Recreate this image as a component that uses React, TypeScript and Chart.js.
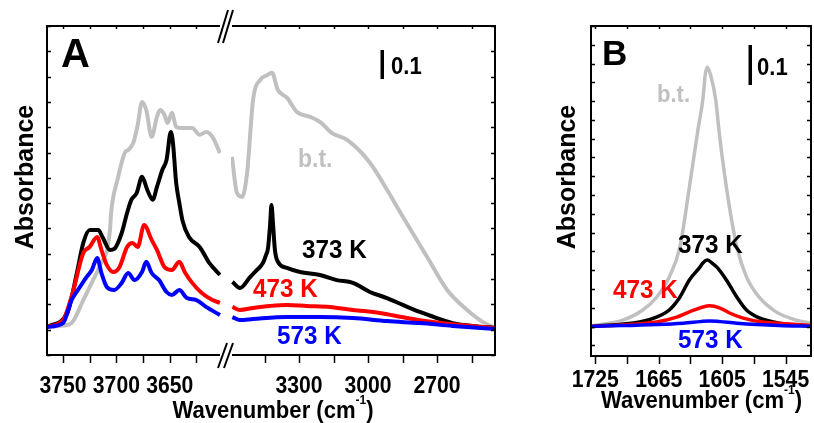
import React, { useEffect, useRef } from "react";
import { Chart, registerables } from "chart.js";
Chart.register(...registerables);

// ---------- Panel A : O-H / C-H region (left part of broken axis) ----------
const btLeftWn = [3765, 3750, 3742, 3731, 3722, 3716, 3706, 3705, 3699, 3692, 3689, 3684, 3680, 3676, 3672, 3667, 3662, 3659, 3655, 3652, 3648, 3644, 3639, 3629, 3622, 3616, 3610, 3603];
const btLeftAbs = [0.011, 0.016, 0.026, 0.117, 0.195, 0.248, 0.394, 0.46, 0.592, 0.7, 0.71, 0.74, 0.81, 0.9, 0.868, 0.762, 0.841, 0.868, 0.849, 0.817, 0.857, 0.801, 0.797, 0.797, 0.77, 0.781, 0.762, 0.698];
const k373LeftWn = [3765, 3746, 3737, 3731, 3725, 3717, 3713, 3706, 3702, 3695, 3690, 3686, 3681, 3676, 3671, 3666, 3662, 3657, 3653, 3649, 3647, 3644, 3641, 3638, 3632, 3622, 3613, 3603];
const k373LeftAbs = [0.011, 0.066, 0.224, 0.343, 0.394, 0.394, 0.366, 0.315, 0.319, 0.382, 0.461, 0.513, 0.54, 0.604, 0.552, 0.513, 0.564, 0.631, 0.671, 0.781, 0.738, 0.58, 0.5, 0.43, 0.366, 0.327, 0.264, 0.216];
const k473LeftWn = [3765, 3750, 3741, 3731, 3725, 3718, 3714, 3709, 3703, 3697, 3690, 3685, 3680, 3674, 3667, 3662, 3655, 3648, 3641, 3636, 3629, 3620, 3610, 3603];
const k473LeftAbs = [0.011, 0.038, 0.145, 0.303, 0.327, 0.366, 0.315, 0.256, 0.228, 0.248, 0.327, 0.343, 0.327, 0.414, 0.355, 0.315, 0.248, 0.236, 0.268, 0.228, 0.185, 0.145, 0.117, 0.106];
const k573LeftWn = [3765, 3750, 3742, 3736, 3728, 3723, 3718, 3714, 3709, 3702, 3695, 3689, 3683, 3676, 3672, 3667, 3660, 3653, 3648, 3641, 3634, 3625, 3616, 3603];
const k573LeftAbs = [0.011, 0.026, 0.117, 0.157, 0.208, 0.236, 0.283, 0.224, 0.169, 0.157, 0.185, 0.224, 0.196, 0.228, 0.268, 0.224, 0.196, 0.149, 0.137, 0.157, 0.125, 0.117, 0.09, 0.058];

// ---------- Panel A : right part of broken axis ----------
const btRightWn = [3592, 3570, 3548, 3526, 3500, 3466, 3440, 3418, 3392, 3352, 3309, 3252, 3209, 3157, 3091, 2991, 2917, 2848, 2743, 2656, 2569, 2500, 2448];
const btRightAbs = [0.683, 0.54, 0.525, 0.619, 0.908, 0.99, 1.005, 1.015, 0.947, 0.916, 0.86, 0.841, 0.821, 0.777, 0.75, 0.659, 0.552, 0.445, 0.287, 0.157, 0.078, 0.03, 0.007];
const k373RightWn = [3590, 3557, 3513, 3483, 3457, 3444, 3435, 3426, 3420, 3413, 3405, 3392, 3353, 3296, 3209, 3136, 3066, 2992, 2918, 2849, 2775, 2701, 2632, 2545, 2448];
const k373RightAbs = [0.189, 0.165, 0.208, 0.236, 0.264, 0.295, 0.323, 0.414, 0.493, 0.414, 0.315, 0.268, 0.244, 0.228, 0.216, 0.196, 0.185, 0.149, 0.125, 0.098, 0.07, 0.046, 0.026, 0.015, 0.007];
const k473RightWn = [3590, 3557, 3500, 3426, 3353, 3266, 3166, 3066, 2949, 2832, 2719, 2602, 2448];
const k473RightAbs = [0.09, 0.078, 0.086, 0.094, 0.098, 0.094, 0.09, 0.078, 0.066, 0.046, 0.03, 0.019, 0.007];
const k573RightWn = [3590, 3557, 3500, 3353, 3209, 3066, 2918, 2775, 2632, 2448];
const k573RightAbs = [0.05, 0.038, 0.042, 0.05, 0.05, 0.046, 0.034, 0.026, 0.015, 0.003];

// ---------- Panel B : C=C / H2O bending region ----------
const btBWn = [1729, 1699, 1680, 1667, 1655, 1645, 1636, 1628, 1623, 1621, 1619, 1616, 1611, 1608, 1601, 1591, 1582, 1570, 1554, 1535, 1521];
const btBAbs = [0.001, 0.017, 0.044, 0.078, 0.132, 0.211, 0.371, 0.522, 0.61, 0.67, 0.69, 0.67, 0.602, 0.522, 0.371, 0.211, 0.132, 0.078, 0.039, 0.017, 0.009];
const k373BWn = [1729, 1683, 1667, 1655, 1645, 1636, 1626, 1623, 1619, 1615, 1610, 1601, 1591, 1582, 1570, 1551, 1521];
const k373BAbs = [0.0, 0.012, 0.025, 0.044, 0.078, 0.124, 0.158, 0.17, 0.177, 0.17, 0.158, 0.124, 0.078, 0.044, 0.023, 0.009, 0.001];
const k473BWn = [1729, 1667, 1648, 1636, 1623, 1617, 1607, 1598, 1586, 1567, 1541, 1521];
const k473BAbs = [0.0, 0.012, 0.025, 0.039, 0.052, 0.055, 0.049, 0.036, 0.023, 0.012, 0.007, 0.003];
const k573BWn = [1729, 1642, 1626, 1617, 1607, 1591, 1551, 1521];
const k573BAbs = [0.0, 0.009, 0.013, 0.015, 0.013, 0.009, 0.003, 0.001];

// ---------- axes ----------
const aLeftTicks = [3750, 3725, 3700, 3675, 3650, 3625];
const aLeftLabels = [3750, 3700, 3650];
const aRightTicks = [3450, 3300, 3150, 3000, 2850, 2700, 2550];
const aRightLabels = [3300, 3000, 2700];
const bTicks = [1725, 1695, 1665, 1635, 1605, 1575, 1545];
const bLabels = [1725, 1665, 1605, 1545];
const aYTicks = [-0.1, 0, 0.1, 0.2, 0.3, 0.4, 0.5, 0.6, 0.7, 0.8, 0.9, 1.0, 1.1, 1.2];
const bYTicks = [-0.05, 0, 0.05, 0.1, 0.15, 0.2, 0.25, 0.3, 0.35, 0.4, 0.45, 0.5, 0.55, 0.6, 0.65, 0.7, 0.75, 0.8];

// ---------- texts ----------
const seriesNames = ["b.t.", "373 K", "473 K", "573 K"];
const yTitle = "Absorbance";
const xTitleMain = "Wavenumber (cm";
const xTitleSup = "-1";
const scaleBarLabel = "0.1";

const FONT = '"Liberation Sans", Arial, Helvetica, sans-serif';
const GREY = "#c0c0c0";
const COLORS = [GREY, "#000000", "#ff0000", "#0000ff"];

function pts(xs: number[], ys: number[]) {
  return xs.map((x, i) => ({ x, y: ys[i] }));
}

function seg(ctx: CanvasRenderingContext2D, x1: number, y1: number, x2: number, y2: number) {
  ctx.beginPath();
  ctx.moveTo(x1, y1);
  ctx.lineTo(x2, y2);
  ctx.stroke();
}

function txt(
  ctx: CanvasRenderingContext2D,
  s: string,
  x: number,
  y: number,
  size: number,
  color: string,
  sx = 1,
  align: CanvasTextAlign = "left",
  rot = 0
) {
  ctx.save();
  ctx.translate(x, y);
  if (rot) ctx.rotate(rot);
  ctx.scale(sx, 1);
  ctx.font = `bold ${size}px ${FONT}`;
  ctx.fillStyle = color;
  ctx.textAlign = align;
  ctx.textBaseline = "alphabetic";
  ctx.fillText(s, 0, 0);
  ctx.restore();
}

function xTitle(ctx: CanvasRenderingContext2D, cx: number, baseline: number, size: number, sx: number) {
  const sup = Math.round(size * 0.55);
  ctx.save();
  ctx.font = `bold ${size}px ${FONT}`;
  const w1 = ctx.measureText(xTitleMain).width;
  const w3 = ctx.measureText(")").width;
  ctx.font = `bold ${sup}px ${FONT}`;
  const w2 = ctx.measureText(xTitleSup).width;
  const total = (w1 + w2 + w3) * sx;
  ctx.translate(cx - total / 2, baseline);
  ctx.scale(sx, 1);
  ctx.fillStyle = "#000";
  ctx.textBaseline = "alphabetic";
  ctx.textAlign = "left";
  ctx.font = `bold ${size}px ${FONT}`;
  ctx.fillText(xTitleMain, 0, 0);
  ctx.font = `bold ${sup}px ${FONT}`;
  ctx.fillText(xTitleSup, w1, -size * 0.6);
  ctx.font = `bold ${size}px ${FONT}`;
  ctx.fillText(")", w1 + w2, 0);
  ctx.restore();
}

function ds(label: string, data: { x: number; y: number }[], color: string, xAxisID: string, order: number, width: number) {
  return {
    label,
    data,
    borderColor: color,
    backgroundColor: color,
    borderWidth: width,
    pointRadius: 0,
    fill: false,
    cubicInterpolationMode: "monotone" as const,
    borderJoinStyle: "round" as const,
    xAxisID,
    yAxisID: "y",
    order,
  };
}

function fixedTicks(values: number[]) {
  return (scale: any) => {
    scale.ticks = values.map((v) => ({ value: v }));
  };
}

const panelAPlugin = {
  id: "panelAFrame",
  afterDraw(chart: any) {
    const ctx: CanvasRenderingContext2D = chart.ctx;
    const ca = chart.chartArea;
    const sL = chart.scales.xL;
    const sR = chart.scales.xR;
    const sy = chart.scales.y;
    ctx.save();
    ctx.strokeStyle = "#000";
    ctx.lineWidth = 2;
    seg(ctx, ca.left, ca.top - 1, ca.left, ca.bottom + 1);
    seg(ctx, ca.right, ca.top - 1, ca.right, ca.bottom + 1);
    seg(ctx, sL.left, ca.top, sL.right - 1, ca.top);
    seg(ctx, sR.left + 1, ca.top, sR.right, ca.top);
    seg(ctx, sL.left, ca.bottom, sL.right - 1, ca.bottom);
    seg(ctx, sR.left + 1, ca.bottom, sR.right, ca.bottom);
    // axis-break marks
    const g = (sL.right + sR.left) / 2;
    seg(ctx, g - 8, ca.bottom + 13, g + 1, ca.bottom - 12);
    seg(ctx, g - 2, ca.bottom + 13, g + 7, ca.bottom - 12);
    seg(ctx, g - 8, ca.top + 17, g + 2, ca.top - 16);
    seg(ctx, g - 3, ca.top + 17, g + 7, ca.top - 16);
    // ticks
    ctx.lineWidth = 1.5;
    for (const s of [sL, sR]) {
      for (const t of s.ticks) {
        const x = Math.round(s.getPixelForValue(t.value)) + 0.5;
        seg(ctx, x, ca.bottom, x, ca.bottom + 8);
        seg(ctx, x, ca.top, x, ca.top + 3);
      }
    }
    for (const t of sy.ticks) {
      const y = Math.round(sy.getPixelForValue(t.value)) + 0.5;
      seg(ctx, ca.left, y, ca.left + 4, y);
      seg(ctx, ca.right, y, ca.right - 4, y);
    }
    ctx.restore();
    // tick labels
    for (const v of aLeftLabels) txt(ctx, String(v), sL.getPixelForValue(v), 393, 23, "#000", 0.92, "center");
    for (const v of aRightLabels) txt(ctx, String(v), sR.getPixelForValue(v), 393, 23, "#000", 0.92, "center");
    // titles
    xTitle(ctx, 273, 418, 24, 0.92);
    txt(ctx, yTitle, 33, 177, 25, "#000", 1, "center", -Math.PI / 2);
    // annotations
    txt(ctx, "A", 61, 67, 40, "#000");
    txt(ctx, seriesNames[0], 298, 167, 25, GREY, 0.92);
    txt(ctx, seriesNames[1], 302, 258, 25, "#000", 0.97);
    txt(ctx, seriesNames[2], 253, 297, 25, "#ff0000", 0.97);
    txt(ctx, seriesNames[3], 277, 344, 25, "#0000ff", 0.97);
    ctx.save();
    ctx.fillStyle = "#000";
    ctx.fillRect(380.5, 50, 3.5, 29);
    ctx.restore();
    txt(ctx, scaleBarLabel, 391, 74, 24, "#000", 0.92);
  },
};

const panelBPlugin = {
  id: "panelBFrame",
  afterDraw(chart: any) {
    const ctx: CanvasRenderingContext2D = chart.ctx;
    const ca = chart.chartArea;
    const sx = chart.scales.x;
    const sy = chart.scales.y;
    ctx.save();
    ctx.strokeStyle = "#000";
    ctx.lineWidth = 2;
    ctx.strokeRect(ca.left, ca.top, ca.right - ca.left, ca.bottom - ca.top);
    ctx.lineWidth = 1.5;
    for (const t of sx.ticks) {
      const x = Math.round(sx.getPixelForValue(t.value)) + 0.5;
      seg(ctx, x, ca.bottom, x, ca.bottom + 8);
      seg(ctx, x, ca.top, x, ca.top + 3);
    }
    for (const t of sy.ticks) {
      const y = Math.round(sy.getPixelForValue(t.value)) + 0.5;
      seg(ctx, ca.left, y, ca.left + 4, y);
      seg(ctx, ca.right, y, ca.right - 4, y);
    }
    ctx.restore();
    for (const v of bLabels) txt(ctx, String(v), sx.getPixelForValue(v), 386.5, 23, "#000", 0.92, "center");
    xTitle(ctx, 161.5, 408, 24, 0.92);
    txt(ctx, yTitle, 35, 177, 25, "#000", 1, "center", -Math.PI / 2);
    txt(ctx, "B", 62, 65, 35, "#000");
    txt(ctx, seriesNames[0], 117, 102, 24, GREY, 0.92);
    txt(ctx, seriesNames[1], 138, 253, 25, "#000", 0.97);
    txt(ctx, seriesNames[2], 73, 298, 25, "#ff0000", 0.97);
    txt(ctx, seriesNames[3], 138, 348, 25, "#0000ff", 0.97);
    ctx.save();
    ctx.fillStyle = "#000";
    ctx.fillRect(208.5, 45, 3.5, 40);
    ctx.restore();
    txt(ctx, scaleBarLabel, 217, 75, 24, "#000", 0.92);
  },
};

export default function App() {
  const refA = useRef<HTMLCanvasElement | null>(null);
  const refB = useRef<HTMLCanvasElement | null>(null);

  useEffect(() => {
    const hidden = { display: false };
    const chartA = new Chart(refA.current as HTMLCanvasElement, {
      type: "line",
      data: {
        datasets: [
          ds(seriesNames[0], pts(btLeftWn, btLeftAbs), COLORS[0], "xL", 3, 4),
          ds(seriesNames[0], pts(btRightWn, btRightAbs), COLORS[0], "xR", 3, 4),
          ds(seriesNames[1], pts(k373LeftWn, k373LeftAbs), COLORS[1], "xL", 2, 4),
          ds(seriesNames[1], pts(k373RightWn, k373RightAbs), COLORS[1], "xR", 2, 4),
          ds(seriesNames[2], pts(k473LeftWn, k473LeftAbs), COLORS[2], "xL", 1, 4),
          ds(seriesNames[2], pts(k473RightWn, k473RightAbs), COLORS[2], "xR", 1, 4),
          ds(seriesNames[3], pts(k573LeftWn, k573LeftAbs), COLORS[3], "xL", 0, 4),
          ds(seriesNames[3], pts(k573RightWn, k573RightAbs), COLORS[3], "xR", 0, 4),
        ] as any,
      },
      options: {
        responsive: false,
        animation: false,
        events: [],
        layout: { padding: { top: 26, right: 45, left: 0, bottom: 0 } },
        plugins: { legend: hidden, tooltip: { enabled: false }, title: hidden },
        scales: {
          xL: {
            type: "linear",
            position: "bottom",
            reverse: true,
            min: 3602,
            max: 3765,
            stack: "bottomA",
            stackWeight: 174,
            afterBuildTicks: fixedTicks(aLeftTicks),
            afterFit: (s: any) => { s.height = 68; },
            ticks: hidden,
            grid: hidden,
            border: hidden,
          },
          xG: {
            type: "linear",
            position: "bottom",
            min: 0,
            max: 1,
            stack: "bottomA",
            stackWeight: 10,
            afterFit: (s: any) => { s.height = 68; },
            ticks: hidden,
            grid: hidden,
            border: hidden,
          },
          xR: {
            type: "linear",
            position: "bottom",
            reverse: true,
            min: 2448,
            max: 3596,
            stack: "bottomA",
            stackWeight: 264,
            afterBuildTicks: fixedTicks(aRightTicks),
            afterFit: (s: any) => { s.height = 68; },
            ticks: hidden,
            grid: hidden,
            border: hidden,
          },
          y: {
            type: "linear",
            position: "left",
            min: -0.1,
            max: 1.2,
            afterBuildTicks: fixedTicks(aYTicks),
            afterFit: (s: any) => { s.width = 47; },
            ticks: hidden,
            grid: hidden,
            border: hidden,
          },
        } as any,
      },
      plugins: [panelAPlugin],
    });

    const chartB = new Chart(refB.current as HTMLCanvasElement, {
      type: "line",
      data: {
        datasets: [
          ds(seriesNames[0], pts(btBWn, btBAbs), COLORS[0], "x", 3, 3.5),
          ds(seriesNames[1], pts(k373BWn, k373BAbs), COLORS[1], "x", 2, 3.5),
          ds(seriesNames[2], pts(k473BWn, k473BAbs), COLORS[2], "x", 1, 3.5),
          ds(seriesNames[3], pts(k573BWn, k573BAbs), COLORS[3], "x", 0, 3.5),
        ] as any,
      },
      options: {
        responsive: false,
        animation: false,
        events: [],
        layout: { padding: { top: 26, right: 3, left: 0, bottom: 0 } },
        plugins: { legend: hidden, tooltip: { enabled: false }, title: hidden },
        scales: {
          x: {
            type: "linear",
            position: "bottom",
            reverse: true,
            min: 1521,
            max: 1729,
            afterBuildTicks: fixedTicks(bTicks),
            afterFit: (s: any) => { s.height = 67; },
            ticks: hidden,
            grid: hidden,
            border: hidden,
          },
          y: {
            type: "linear",
            position: "left",
            min: -0.0785,
            max: 0.8,
            afterBuildTicks: fixedTicks(bYTicks),
            afterFit: (s: any) => { s.width = 51; },
            ticks: hidden,
            grid: hidden,
            border: hidden,
          },
        } as any,
      },
      plugins: [panelBPlugin],
    });

    return () => {
      chartA.destroy();
      chartB.destroy();
    };
  }, []);

  return (
    <div style={{ position: "fixed", left: 0, top: 0, width: 814, height: 423, background: "#fff", overflow: "hidden" }}>
      <canvas ref={refA} width={540} height={423} style={{ position: "absolute", left: 0, top: 0, width: 540, height: 423 }} />
      <canvas ref={refB} width={274} height={423} style={{ position: "absolute", left: 540, top: 0, width: 274, height: 423 }} />
    </div>
  );
}
